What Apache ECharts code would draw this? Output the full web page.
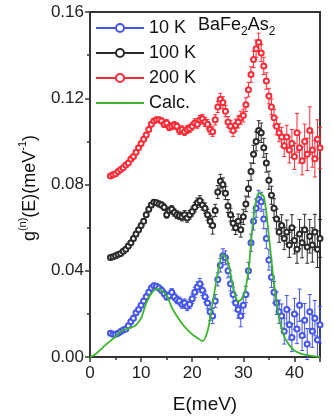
<!DOCTYPE html>
<html>
<head>
<meta charset="UTF-8">
<title>g(E) BaFe2As2</title>
<script src="https://cdn.jsdelivr.net/npm/echarts@6/dist/echarts.min.js"></script>
<style>
html,body{margin:0;padding:0;background:#fff;}
#chart{width:332px;height:419px;}
</style>
</head>
<body>
<div id="chart"></div>
<script type="text/javascript">
// energy grid of the measured points (meV)
var energy = [4,4.5,5,5.5,6,6.5,7,7.5,8,8.5,9,9.5,10,10.5,11,11.5,12,12.5,13,13.5,
  14,14.5,15,15.5,16,16.5,17,17.5,18,18.5,19,19.5,20,20.5,21,21.5,22,22.5,23,23.5,
  24,24.5,25,25.5,26,26.5,27,27.5,28,28.5,29,29.5,30,30.5,31,31.5,32,32.5,33,33.5,
  34,34.5,35,35.5,36,36.5,37,37.5,38,38.5,39,39.5,40,40.5,41,41.5,42,42.5,43,43.5,
  44,44.5,45];

// 200 K
var g200 = [0.084,0.0845,0.085,0.086,0.087,0.0878,0.089,0.090,0.0918,0.093,
  0.095,0.097,0.099,0.101,0.103,0.1055,0.108,0.1095,0.110,0.110,
  0.1095,0.108,0.1085,0.1065,0.107,0.1075,0.107,0.105,0.1055,0.1045,
  0.1055,0.106,0.107,0.1085,0.108,0.110,0.1105,0.109,0.108,0.1055,
  0.1045,0.110,0.116,0.1195,0.118,0.114,0.109,0.107,0.105,0.1075,
  0.109,0.111,0.112,0.117,0.124,0.131,0.138,0.143,0.146,0.141,
  0.135,0.128,0.121,0.116,0.111,0.107,0.104,0.102,0.098,0.102,
  0.096,0.099,0.093,0.104,0.097,0.091,0.100,0.094,0.105,0.096,
  0.092,0.101,0.097];
var err200 = [0.0008,0.0008,0.0008,0.0008,0.0008,0.0008,0.0008,0.0008,0.0008,0.0008,
  0.0009,0.0009,0.001,0.001,0.001,0.001,0.001,0.001,0.0012,0.0012,
  0.0014,0.0015,0.0016,0.0015,0.0016,0.0017,0.0016,0.0018,0.0017,0.0018,
  0.0018,0.0019,0.0018,0.002,0.0019,0.002,0.002,0.0021,0.0022,0.0022,
  0.0022,0.0024,0.0026,0.0028,0.0027,0.0026,0.0025,0.0026,0.0027,0.0028,
  0.0028,0.003,0.003,0.0032,0.0034,0.0036,0.0038,0.004,0.0042,0.004,
  0.004,0.0038,0.0036,0.0036,0.0038,0.004,0.0042,0.0045,0.005,0.0055,
  0.006,0.0065,0.006,0.009,0.007,0.0065,0.008,0.0075,0.011,0.008,
  0.0085,0.009,0.0095];

// 100 K
var g100 = [0.0462,0.0465,0.047,0.0475,0.048,0.049,0.050,0.0515,0.053,0.055,
  0.057,0.059,0.061,0.063,0.066,0.0685,0.0705,0.0718,0.0715,0.071,
  0.0705,0.0695,0.066,0.068,0.0685,0.067,0.066,0.0655,0.065,0.066,
  0.0645,0.066,0.0675,0.0695,0.0715,0.0725,0.0705,0.069,0.066,0.063,
  0.061,0.068,0.0765,0.0815,0.080,0.076,0.070,0.066,0.062,0.060,
  0.063,0.059,0.065,0.071,0.078,0.086,0.094,0.100,0.105,0.104,
  0.097,0.090,0.082,0.075,0.069,0.064,0.058,0.061,0.055,0.058,
  0.052,0.060,0.054,0.050,0.057,0.053,0.059,0.051,0.056,0.052,
  0.058,0.050,0.055];
var err100 = [0.0008,0.0008,0.0008,0.0008,0.0008,0.0008,0.0008,0.0008,0.0008,0.0008,
  0.0009,0.0009,0.001,0.001,0.001,0.0011,0.0011,0.0012,0.0012,0.0013,
  0.0014,0.0015,0.0016,0.0016,0.0017,0.0017,0.0018,0.0018,0.0019,0.0019,
  0.002,0.002,0.0021,0.0022,0.0022,0.0023,0.0023,0.0024,0.0025,0.0026,
  0.004,0.0028,0.003,0.0032,0.0031,0.003,0.003,0.003,0.0031,0.0032,
  0.0033,0.0034,0.0035,0.0036,0.0038,0.004,0.0042,0.0044,0.0046,0.0045,
  0.0044,0.0043,0.0042,0.0042,0.0044,0.0046,0.0048,0.005,0.0052,0.0055,
  0.0058,0.006,0.0062,0.0065,0.0068,0.007,0.0072,0.0075,0.0078,0.008,
  0.0082,0.0085,0.0088];

// 10 K
var g10 = [0.011,0.0105,0.0105,0.011,0.0118,0.0125,0.013,0.0145,0.0165,0.018,
  0.0205,0.022,0.024,0.026,0.028,0.030,0.032,0.033,0.0328,0.032,
  0.031,0.0295,0.028,0.0285,0.030,0.028,0.0265,0.026,0.0245,0.025,
  0.0235,0.0245,0.027,0.030,0.0325,0.034,0.031,0.028,0.025,0.021,
  0.019,0.026,0.036,0.0425,0.047,0.046,0.040,0.034,0.029,0.025,
  0.022,0.019,0.024,0.029,0.040,0.053,0.063,0.069,0.073,0.072,
  0.064,0.055,0.045,0.037,0.030,0.025,0.021,0.019,0.012,0.022,
  0.015,0.009,0.020,0.013,0.024,0.010,0.017,0.006,0.021,0.012,
  0.018,0.008,0.015];
var err10 = [0.0008,0.0008,0.0008,0.0008,0.0008,0.0008,0.0008,0.0008,0.0008,0.0008,
  0.0009,0.0009,0.001,0.001,0.0011,0.0011,0.0012,0.0012,0.0013,0.0013,
  0.0014,0.0015,0.0016,0.0016,0.0017,0.0017,0.0018,0.0018,0.0019,0.0019,
  0.002,0.0021,0.0022,0.0023,0.0024,0.0024,0.0025,0.0026,0.0027,0.004,
  0.0035,0.003,0.003,0.0031,0.0032,0.0032,0.0033,0.0034,0.0035,0.0036,
  0.004,0.005,0.0038,0.0038,0.0039,0.004,0.0041,0.0042,0.0043,0.0044,
  0.0045,0.0046,0.0047,0.0048,0.005,0.0052,0.0054,0.0056,0.006,0.0065,
  0.007,0.0065,0.0072,0.0068,0.0075,0.007,0.0078,0.0072,0.008,0.0075,
  0.0082,0.0078,0.0085];

// calculation
var calcE = [0,1,2,3,4,5,6,7,8,9,10,11,12,13,14,15,16,17,18,19,20,21,22,23,24,
  25,26,27,28,29,30,31,32,33,34,35,36,37,38,39,40,41,42,43,44,45];
var calcG = [0,0.0012,0.0033,0.0055,0.0075,0.0095,0.0118,0.013,0.0136,0.0148,
  0.018,0.025,0.0295,0.0315,0.031,0.0285,0.023,0.019,0.0155,0.0128,
  0.0105,0.0088,0.0074,0.012,0.025,0.039,0.0476,0.044,0.0326,0.0258,
  0.028,0.040,0.065,0.076,0.0745,0.056,0.034,0.018,0.0095,0.0055,
  0.003,0.0018,0.0011,0.0006,0.0003,0.0001];

var xTicks = [0, 10, 20, 30, 40];
var yTicks = [0, 0.04, 0.08, 0.12, 0.16];

var FONT = "'Liberation Sans', Arial, sans-serif";
var AXIS = '#333';

function pairs(xs, ys) {
  var out = [];
  for (var i = 0; i < xs.length; i++) out.push([xs[i], ys[i]]);
  return out;
}
function bars(xs, ys, es) {
  var out = [];
  for (var i = 0; i < xs.length; i++) out.push([xs[i], ys[i] - es[i], ys[i] + es[i]]);
  return out;
}
function errorSeries(data, color) {
  return {
    type: 'custom',
    data: data,
    silent: true,
    z: 2,
    renderItem: function(params, api) {
      var top = api.coord([api.value(0), api.value(2)]);
      var bot = api.coord([api.value(0), api.value(1)]);
      var w = 2;
      var st = { stroke: color, lineWidth: 1 };
      return {
        type: 'group',
        children: [
          { type: 'line', shape: { x1: top[0], y1: top[1], x2: bot[0], y2: bot[1] }, style: st },
          { type: 'line', shape: { x1: top[0] - w, y1: top[1], x2: top[0] + w, y2: top[1] }, style: st },
          { type: 'line', shape: { x1: bot[0] - w, y1: bot[1], x2: bot[0] + w, y2: bot[1] }, style: st }
        ]
      };
    }
  };
}
function pointSeries(name, data, color) {
  return {
    name: name,
    type: 'line',
    data: data,
    symbol: 'emptyCircle',
    symbolSize: 5,
    z: 3,
    lineStyle: { width: 0, color: color },
    itemStyle: { color: color, borderWidth: 1.2 }
  };
}

var colors = { k10: '#4455ee', k100: '#2a2a2a', k200: '#ff2a36', calc: '#3cb52a' };

var chart = echarts.init(document.getElementById('chart'), null, { renderer: 'canvas' });
chart.setOption({
  animation: false,
  textStyle: { fontFamily: FONT },
  grid: { left: 90, right: 12, top: 12, bottom: 54, show: true, borderColor: AXIS, borderWidth: 2 },
  legend: {
    orient: 'vertical',
    left: 90,
    top: 14,
    itemWidth: 48,
    itemHeight: 10,
    itemGap: 7,
    data: ['10 K', '100 K', '200 K', { name: 'Calc.', itemStyle: { opacity: 0 } }],
    lineStyle: { width: 2 },
    textStyle: { fontSize: 18, color: '#111', fontFamily: FONT, lineHeight: 18 }
  },
  xAxis: {
    type: 'value',
    min: 0, max: 45, interval: 10,
    name: 'E(meV)',
    nameLocation: 'middle',
    nameGap: 38,
    nameTextStyle: { fontSize: 19, color: '#111' },
    axisLine: { lineStyle: { color: AXIS, width: 2 } },
    axisTick: { inside: false, length: 5, lineStyle: { color: AXIS, width: 1.5 } },
    minorTick: { show: true, splitNumber: 2, length: 3, lineStyle: { color: AXIS, width: 1.5 } },
    splitLine: { show: false },
    axisLabel: {
      fontSize: 17, color: '#222', margin: 8,
      formatter: function(v) { return xTicks.indexOf(v) >= 0 ? String(v) : ''; }
    }
  },
  yAxis: {
    type: 'value',
    min: 0, max: 0.16, interval: 0.04,
    axisLine: { show: true, lineStyle: { color: AXIS, width: 2 } },
    axisTick: { show: true, inside: false, length: 5, lineStyle: { color: AXIS, width: 1.5 } },
    minorTick: { show: true, splitNumber: 2, length: 3, lineStyle: { color: AXIS, width: 1.5 } },
    splitLine: { show: false },
    axisLabel: {
      fontSize: 17, color: '#222', margin: 6,
      formatter: function(v) {
        for (var i = 0; i < yTicks.length; i++) if (Math.abs(yTicks[i] - v) < 1e-9) return v.toFixed(2);
        return '';
      }
    }
  },
  graphic: [
    {
      type: 'text',
      x: 28, y: 188,
      rotation: Math.PI / 2,
      style: {
        text: '{a|g}{s|(n)}{a|(E)(meV}{s|-1}{a|)}',
        align: 'center',
        verticalAlign: 'middle',
        rich: {
          a: { fontSize: 18, fontFamily: FONT, fill: '#111', lineHeight: 22, verticalAlign: 'bottom' },
          s: { fontSize: 11, fontFamily: FONT, fill: '#111', lineHeight: 22, verticalAlign: 'top' }
        }
      }
    },
    {
      type: 'text',
      left: 198, top: 16,
      style: {
        text: '{a|BaFe}{s|2}{a|As}{s|2}',
        rich: {
          a: { fontSize: 18, fontFamily: FONT, fill: '#111', lineHeight: 22, verticalAlign: 'top' },
          s: { fontSize: 12, fontFamily: FONT, fill: '#111', lineHeight: 22, verticalAlign: 'bottom' }
        }
      }
    }
  ],
  series: [
    errorSeries(bars(energy, g200, err200), colors.k200),
    errorSeries(bars(energy, g100, err100), colors.k100),
    errorSeries(bars(energy, g10, err10), colors.k10),
    pointSeries('10 K', pairs(energy, g10), colors.k10),
    pointSeries('100 K', pairs(energy, g100), colors.k100),
    pointSeries('200 K', pairs(energy, g200), colors.k200),
    {
      name: 'Calc.',
      type: 'line',
      data: pairs(calcE, calcG),
      smooth: 0.3,
      showSymbol: false,
      symbol: 'none',
      z: 4,
      lineStyle: { width: 1.8, color: colors.calc },
      itemStyle: { color: colors.calc }
    }
  ]
});
</script>
</body>
</html>
